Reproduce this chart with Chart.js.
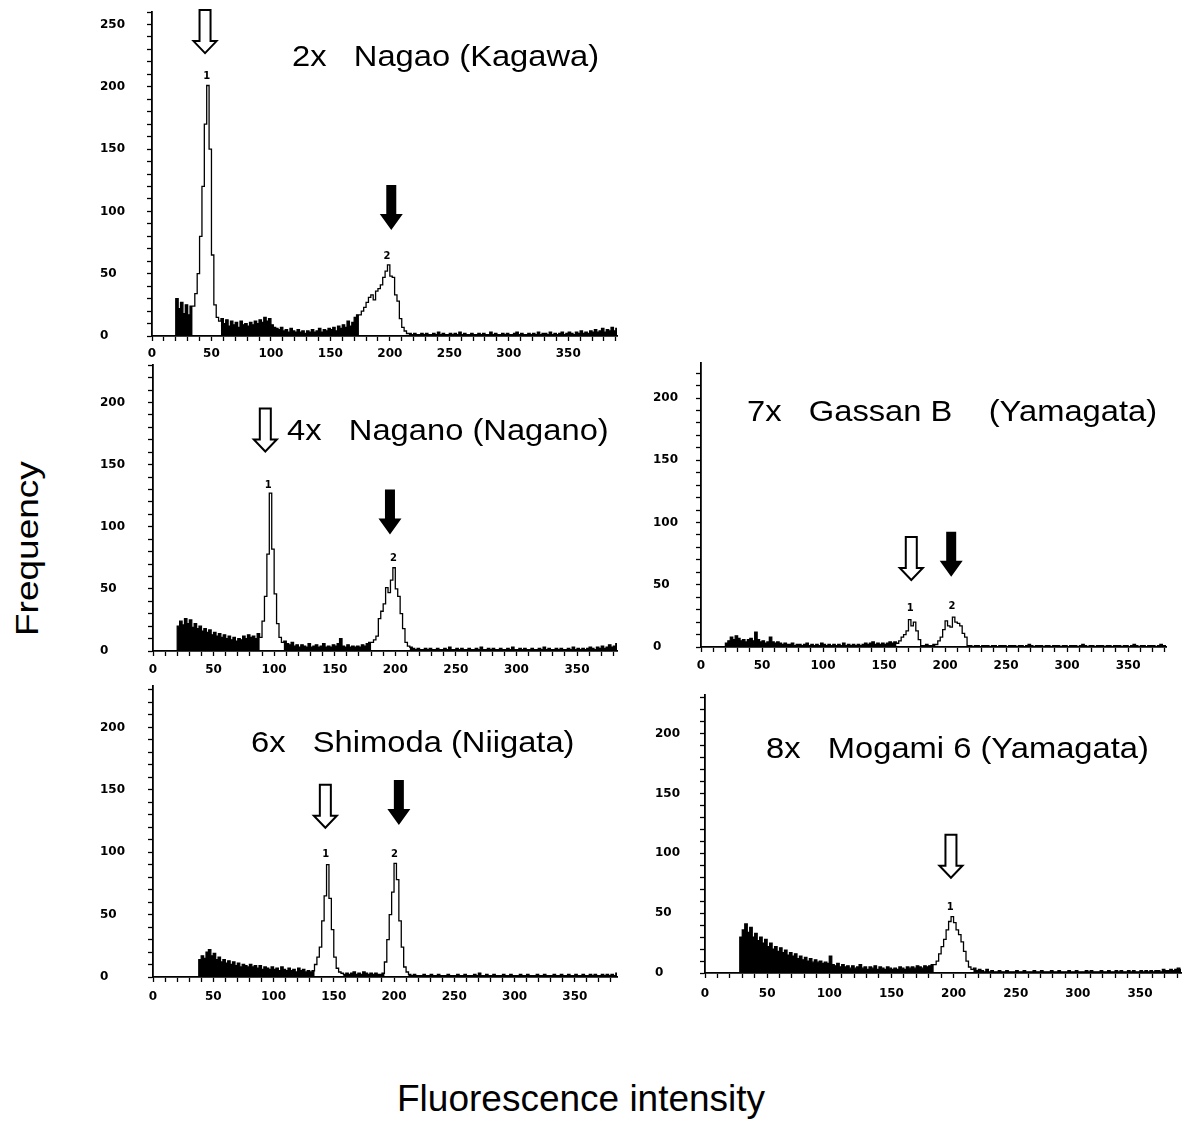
<!DOCTYPE html>
<html><head><meta charset="utf-8">
<script src="https://cdn.jsdelivr.net/npm/chart.js@4.4.1/dist/chart.umd.min.js"></script>
<style>
html,body{margin:0;padding:0;background:#fff;}
#wrap{position:relative;width:1182px;height:1122px;overflow:hidden;background:#fff;}
canvas{position:absolute;}
.t{position:absolute;font-family:'Liberation Sans',Arial,sans-serif;font-size:30px;line-height:30px;white-space:pre;color:#000;transform:scaleX(1.09);transform-origin:0 0;}
.ax{position:absolute;font-family:'Liberation Sans',Arial,sans-serif;font-size:37px;line-height:37px;white-space:pre;color:#000;}
</style></head>
<body><div id="wrap">
<canvas id="c1" width="523" height="368" style="left:100px;top:0px"></canvas>
<canvas id="c2" width="524" height="329" style="left:100px;top:354px"></canvas>
<canvas id="c3" width="525" height="334" style="left:100px;top:675px"></canvas>
<canvas id="c4" width="520" height="327" style="left:653px;top:352px"></canvas>
<canvas id="c5" width="535" height="321" style="left:655px;top:684px"></canvas>
<div class="t" style="left:292px;top:40.6px">2x   Nagao (Kagawa)</div>
<div class="t" style="left:287px;top:414.6px">4x   Nagano (Nagano)</div>
<div class="t" style="left:251px;top:727.3px">6x   Shimoda (Niigata)</div>
<div class="t" style="left:747px;top:396.3px">7x   Gassan B    (Yamagata)</div>
<div class="t" style="left:766px;top:733px">8x   Mogami 6 (Yamagata)</div>
<div class="ax" style="left:397px;top:1080.4px">Fluorescence intensity</div>
<div class="ax" style="left:0;top:0;transform-origin:0 0;transform:translate(10.8px,636px) rotate(-90deg) scaleY(0.87)">Frequency</div>
</div>
<script>
// bin width (fluorescence channels per value)
const BIN = 2;

// Frequency counts, one value per 2-channel bin starting at channel 0
const nagaoCounts = [
0,0,0,0,0,0,0,0,0,0,
30,22,27,18,25,17,24,
24,34,50,80,120,170,201,150,65,25,15,12,
14,10,13,8,12,9,11,7,12,9,10,8,11,9,12,10,13,11,15,12,14,
9,7,6,5,7,4,5,3,6,4,3,5,3,4,2,4,3,5,3,4,6,3,5,4,6,5,7,4,8,6,9,7,12,8,11,15,17,
17,20,23,27,31,33,29,36,38,41,47,52,57,48,47,33,28,14,7,4,2,
2,1,2,1,1,2,1,2,1,1, 2,1,3,1,2,1,1,2,1,2, 1,3,1,2,1,1,2,1,1,2, 1,2,1,1,3,1,2,1,1,2,
1,2,1,1,2,3,1,2,1,1, 2,1,2,1,3,1,2,2,1,3, 1,2,1,2,3,1,2,3,2,1, 3,2,4,2,3,2,4,3,5,3,
4,6,3,5,4,7,4,6];

const naganoCounts = [
0,0,0,0,0,0,0,0,0,0,
20,24,21,26,22,25,19,22,18,20, 16,18,15,17,13,15,12,14,11,13, 10,12,9,11,8,10,9,12,10,13, 11,12,10,14,
11,24,44,78,127,82,46,22,11,7,
8,6,5,7,4,5,3,5,4,3, 6,3,4,5,3,4,6,3,4,3, 5,4,6,10,4,3,5,3,4,3, 4,3,5,4,6,7,
7,9,12,26,32,38,51,47,57,67,50,44,30,18,7,4,
3,2,1,2,1,1,2,1,2,1, 1,2,1,1,2,1,3,1,1,2, 1,2,1,1,2,1,1,2,1,3, 1,1,2,1,2,1,1,2,1,1,
2,1,3,1,1,2,1,2,1,1, 2,1,1,2,1,3,1,2,1,1, 2,1,2,1,1,2,1,3,1,2, 1,2,1,2,3,2,1,3,2,4,
2,3,5,3,4,6,4];

const shimodaCounts = [
0,0,0,0,0,0,0,0,0,0, 0,0,0,0,0,0,0,0,0,
14,17,15,20,22,17,19,14,16,12, 14,11,13,10,12,9,11,8,10,9, 8,10,8,9,7,9,6,8,7,6, 8,6,7,5,8,6,5,7,5,6, 4,7,5,6,4,5,4,5,
10,16,24,45,65,90,63,38,16,7,4,3,
2,3,2,3,4,2,3,2,4,3,2,3,2,3,2,2,3,
12,30,50,68,91,78,45,24,8,4,
2,1,2,1,1,1,2,1,1,2, 1,1,2,1,1,1,2,1,1,1, 2,1,1,2,1,1,1,2,1,3, 1,1,2,1,1,2,1,1,1,2,
1,1,2,1,1,1,2,1,1,2, 1,1,1,2,1,1,2,1,1,1, 2,1,1,2,1,1,2,1,1,2, 1,1,2,1,1,2,1,2,1,1,
2,1,2,1,2,1,3];

const gassanCounts = [
0,0,0,0,0,0,0,0,0,0,
3,5,8,6,9,7,5,6,4,6, 7,5,12,6,4,5,3,4,8,4, 3,4,3,2,3,2,2,3,1,2, 2,1,2,3,1,2,1,2,1,3,
2,1,2,1,2,1,2,1,3,1, 2,1,2,1,2,1,2,3,2,3, 4,2,3,2,3,2,3,4,3,4,
3,5,8,10,13,22,17,20,13,6,
1,1,2,1,1,2,
2,5,8,14,21,17,16,24,20,19,17,11,8,
1,1,0,1,1,0,1,1,1,0, 1,1,0,1,1,1,0,1,1,1, 0,1,1,0,1,2,1,0,1,1, 1,0,1,1,0,1,1,1,0,1,
1,0,1,1,1,0,1,2,1,0, 1,1,0,1,1,1,0,1,1,0, 1,1,1,0,1,1,0,1,2,1, 0,1,1,0,1,1,1,0,1,2,
1,1,0];

const mogamiCounts = [
0,0,0,0,0,0,0,0,0,0, 0,0,0,0,
30,36,41,34,38,30,33,27,30,25, 28,22,25,20,22,18,21,17,19,15, 17,14,16,12,14,11,13,10,12,9,
11,9,10,8,9,8,14,7,6,8, 5,7,5,6,4,6,4,5,7,4, 5,3,5,4,6,3,5,4,3,5, 4,3,4,3,5,4,3,5,4,5,
4,6,5,4,6,5,6,7,
7,10,16,22,28,36,43,47,42,36,32,26,18,10,5,3,
4,2,3,2,1,3,1,2,1,1, 2,1,1,2,1,1,1,2,1,1, 2,1,1,1,2,1,1,2,1,1, 1,2,1,1,2,1,1,1,2,1,
1,2,1,1,1,2,1,2,1,1, 1,2,1,1,2,1,1,2,1,2, 1,1,2,1,2,1,1,2,1,2, 1,2,1,2,2,1,3,2,2,3,
2,3,4,3,5];

// gated peak regions (channel ranges drawn as outline only)
const nagaoGates = [[34,58],[174,216]];
const naganoGates = [[88,108],[180,212]];
const shimodaGates = [[134,158],[192,212]];
const gassanGates = [[160,180],[192,218]];
const mogamiGates = [[184,216]];

// peak markers: [channel, frequency at arrow tip, kind] and labels [channel, frequency, text]
const nagaoArrows = [[44.6,227,'open'],[201.2,85,'solid']];
const nagaoPeakLabels = [[46,208.7,'1'],[197.6,63.6,'2']];
const naganoArrows = [[92.7,160.5,'open'],[195.6,93.7,'solid']];
const naganoPeakLabels = [[95.2,133.5,'1'],[198.4,74.3,'2']];
const shimodaArrows = [[143,119.6,'open'],[204,121.8,'solid']];
const shimodaPeakLabels = [[143.3,98,'1'],[200.3,98.5,'2']];
const gassanArrows = [[172.3,53.8,'open'],[205,56.4,'solid']];
const gassanPeakLabels = [[171.5,30.7,'1'],[205.7,32.6,'2']];
const mogamiArrows = [[197.9,79.5,'open']];
const mogamiPeakLabels = [[197.4,54.7,'1']];

const FONT = "'Liberation Sans', Arial, sans-serif";
const TICKFONT = "'DejaVu Sans', 'Liberation Sans', sans-serif";
Chart.defaults.font.family = FONT;

function drawArrow(ctx, cx, tip, solid) {
  const H = solid ? 45 : 43, head = solid ? 16 : 12, sw = solid ? 5 : 5.5, hw = 11.5;
  ctx.beginPath();
  ctx.moveTo(cx - sw, tip - H);
  ctx.lineTo(cx + sw, tip - H);
  ctx.lineTo(cx + sw, tip - head);
  ctx.lineTo(cx + hw, tip - head);
  ctx.lineTo(cx, tip);
  ctx.lineTo(cx - hw, tip - head);
  ctx.lineTo(cx - sw, tip - head);
  ctx.closePath();
  if (solid) { ctx.fillStyle = '#000'; ctx.fill(); }
  else { ctx.fillStyle = '#fff'; ctx.fill(); ctx.lineWidth = 2; ctx.strokeStyle = '#000'; ctx.stroke(); }
}

const markerPlugin = {
  id: 'markers',
  afterDatasetsDraw(chart, args, opts) {
    const ctx = chart.ctx, xs = chart.scales.x, ys = chart.scales.y;
    ctx.save();
    (opts.arrows || []).forEach(a => drawArrow(ctx, xs.getPixelForValue(a[0]), ys.getPixelForValue(a[1]), a[2] === 'solid'));
    ctx.fillStyle = '#000';
    ctx.font = 'bold 10px ' + TICKFONT;
    ctx.textAlign = 'center';
    ctx.textBaseline = 'middle';
    (opts.labels || []).forEach(l => ctx.fillText(l[2], xs.getPixelForValue(l[0]), ys.getPixelForValue(l[1])));
    ctx.restore();
  }
};

function makePanel(id, counts, gates, arrows, labels, xMax, yMax, yW, padTop, xPad) {
  const inGate = x => gates.some(g => x >= g[0] && x < g[1]);
  const all = counts.map((v, i) => ({x: i * BIN, y: v}));
  all.push({x: counts.length * BIN, y: counts[counts.length - 1]});
  const filled = all.map(p => ({x: p.x, y: inGate(p.x) ? 0 : p.y}));
  const tickFont = {family: TICKFONT, weight: 'bold', size: 12};
  new Chart(document.getElementById(id), {
    type: 'line',
    data: {datasets: [
      {data: filled, stepped: true, fill: 'origin', backgroundColor: '#000', borderColor: 'rgba(0,0,0,0)', borderWidth: 0, pointRadius: 0},
      {data: all, stepped: true, fill: false, borderColor: '#000', borderWidth: 1.3, pointRadius: 0}
    ]},
    options: {
      responsive: false, animation: false, devicePixelRatio: 1,
      layout: {padding: {top: padTop, right: xPad, left: 0, bottom: 0}},
      plugins: {legend: {display: false}, tooltip: {enabled: false}, markers: {arrows: arrows, labels: labels}},
      scales: {
        x: {type: 'linear', min: 0, max: xMax,
          afterFit: s => { s.height = 32; },
          ticks: {stepSize: 10, autoSkip: false, maxRotation: 0, minRotation: 0, includeBounds: false, padding: xPad, color: '#000', font: tickFont,
            callback: v => (v % 50 === 0 ? String(v) : '')},
          grid: {drawOnChartArea: false, tickLength: 5, color: '#000', tickWidth: 1.3},
          border: {color: '#000', width: 1.8}},
        y: {type: 'linear', min: 0, max: yMax,
          afterFit: s => { s.width = yW; },
          ticks: {stepSize: 10, autoSkip: false, includeBounds: false, crossAlign: 'far', padding: 4, color: '#000', font: tickFont,
            callback: v => (v % 50 === 0 ? String(v) : '')},
          grid: {drawOnChartArea: false, tickLength: 5, color: '#000', tickWidth: 1.3},
          border: {color: '#000', width: 1.8}}
      }
    },
    plugins: [markerPlugin]
  });
}

makePanel('c1', nagaoCounts, nagaoGates, nagaoArrows, nagaoPeakLabels, 391, 260, 52, 12, 6);
makePanel('c2', naganoCounts, naganoGates, naganoArrows, naganoPeakLabels, 383, 230, 53, 8, 7);
makePanel('c3', shimodaCounts, shimodaGates, shimodaArrows, shimodaPeakLabels, 385, 233, 53, 8, 8);
makePanel('c4', gassanCounts, gassanGates, gassanArrows, gassanPeakLabels, 381, 228, 48, 8, 7);
makePanel('c5', mogamiCounts, mogamiGates, mogamiArrows, mogamiPeakLabels, 383, 232, 50, 8, 9);
</script>
</body></html>
